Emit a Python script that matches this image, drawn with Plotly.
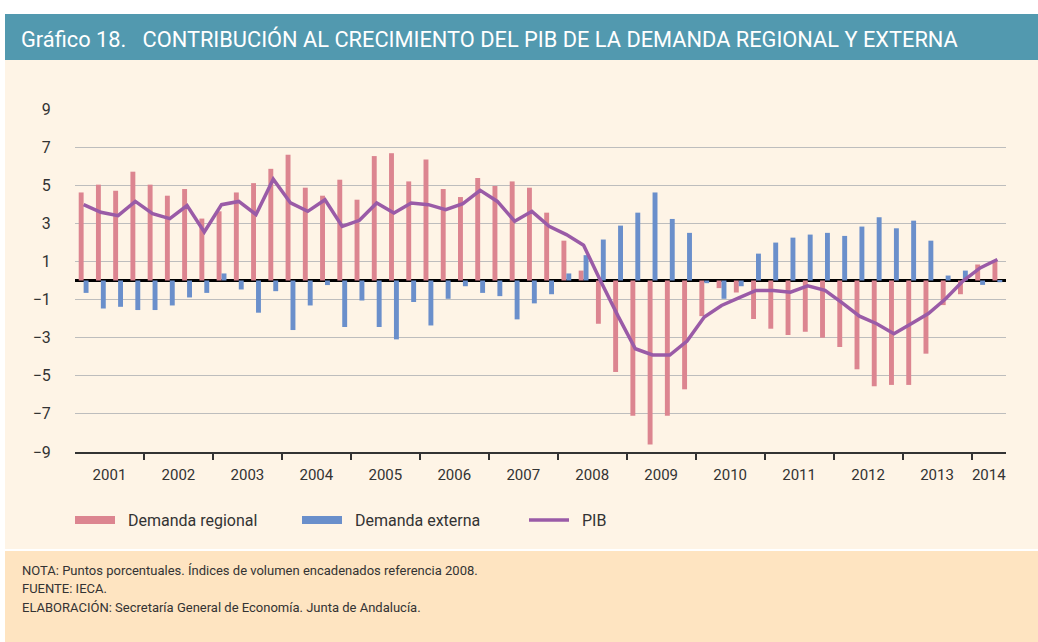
import plotly.graph_objects as go

# ---- data (quarterly, 2001 T1 .. 2014 T2) ----
years = [str(y) for y in range(2001, 2015)]
quarters = [f"{y}T{q}" for y in range(2001, 2015) for q in range(1, 5)][:54]

demanda_regional = [
    4.62, 5.03, 4.71, 5.71,
    5.03, 4.45, 4.80, 3.25,
    3.63, 4.62, 5.11, 5.86,
    6.60, 4.87, 4.45, 5.29,
    4.24, 6.53, 6.68, 5.20,
    6.35, 4.80, 4.38, 5.38,
    4.96, 5.20, 4.87, 3.56,
    2.09, 0.52, -2.27, -4.80,
    -7.10, -8.60, -7.10, -5.71,
    -1.87, -0.40, -0.63, -2.02,
    -2.53, -2.86, -2.69, -3.00,
    -3.49, -4.66, -5.55, -5.48,
    -5.48, -3.84, -1.29, -0.72,
    0.84, 1.06,
]
demanda_externa = [
    -0.65, -1.47, -1.38, -1.55,
    -1.55, -1.31, -0.89, -0.65,
    0.37, -0.47, -1.69, -0.56,
    -2.60, -1.31, -0.24, -2.44,
    -1.05, -2.44, -3.09, -1.13,
    -2.36, -0.96, -0.30, -0.65,
    -0.82, -2.04, -1.20, -0.72,
    0.37, 1.33, 2.15, 2.88,
    3.56, 4.62, 3.23, 2.50,
    -0.14, -0.96, -0.30, 1.41,
    1.99, 2.25, 2.41, 2.50,
    2.34, 2.83, 3.32, 2.74,
    3.14, 2.09, 0.26, 0.52,
    -0.23, -0.09,
]
pib = [
    3.98, 3.58, 3.40, 4.15,
    3.51, 3.25, 3.93, 2.55,
    3.98, 4.15, 3.46, 5.32,
    4.07, 3.63, 4.24, 2.84,
    3.16, 4.07, 3.54, 4.07,
    3.98, 3.72, 4.03, 4.73,
    4.15, 3.11, 3.63, 2.84,
    2.41, 1.85, -0.05, -1.87,
    -3.58, -3.91, -3.91, -3.18,
    -1.92, -1.31, -0.91, -0.52,
    -0.52, -0.61, -0.28, -0.52,
    -1.17, -1.87, -2.27, -2.79,
    -2.27, -1.73, -0.96, -0.03,
    0.66, 1.10,
]
y_ticks = [9, 7, 5, 3, 1, -1, -3, -5, -7, -9]

title_text = "Gráfico 18.&nbsp;&nbsp; CONTRIBUCIÓN AL CRECIMIENTO DEL PIB DE LA DEMANDA REGIONAL Y EXTERNA"
notes = [
    "NOTA: Puntos porcentuales. Índices de volumen encadenados referencia 2008.",
    "FUENTE: IECA.",
    "ELABORACIÓN: Secretaría General de Economía. Junta de Andalucía.",
]

# ---- derived positions ----
x = list(range(len(quarters)))
qyear = [q[:4] for q in quarters]
year_centers, year_bounds = [], []
for y in years:
    idx = [i for i, v in enumerate(qyear) if v == y]
    year_centers.append((idx[0] + idx[-1]) / 2)
    if idx[0] > 0:
        year_bounds.append(idx[0] - 0.5)

RED, BLUE, PURPLE = "#DC8590", "#6A8FCB", "#9A5BA7"
TEAL, CREAM, PEACH = "#5299AF", "#FEF4E6", "#FEE4C1"
TXT = "#333333"
FONT = "Roboto, Arial, sans-serif"
NB = "\u00a0\u00a0"

W, H = 1038, 642
L, R, T, B = 75, 32, 109, 190
pw, ph = W - L - R, H - T - B


def px(xp):
    return (xp - L) / pw


def py(yp):
    return (H - B - yp) / ph


fig = go.Figure()
fig.add_trace(go.Bar(x=x, y=demanda_regional, name="Demanda regional",
                     marker=dict(color=RED, line=dict(width=0)), showlegend=False))
fig.add_trace(go.Bar(x=x, y=demanda_externa, name="Demanda externa",
                     marker=dict(color=BLUE, line=dict(width=0)), showlegend=False))
fig.add_trace(go.Scatter(x=x, y=pib, name="PIB", mode="lines",
                         line=dict(color=PURPLE, width=3.5), showlegend=False))
# legend entries
fig.add_trace(go.Scatter(x=[None], y=[None], mode="lines", name=NB + "Demanda regional",
                         line=dict(color=RED, width=8)))
fig.add_trace(go.Scatter(x=[None], y=[None], mode="lines", name=NB + "Demanda externa",
                         line=dict(color=BLUE, width=8)))
fig.add_trace(go.Scatter(x=[None], y=[None], mode="lines", name=NB + "PIB",
                         line=dict(color=PURPLE, width=3.5)))

shapes = [
    dict(type="rect", xref="paper", yref="paper", x0=px(5), x1=px(W + 2), y0=py(549), y1=py(14),
         fillcolor=CREAM, line=dict(width=0), layer="below"),
    dict(type="rect", xref="paper", yref="paper", x0=px(5), x1=px(W + 2), y0=py(60), y1=py(14),
         fillcolor=TEAL, line=dict(width=0), layer="below"),
    dict(type="rect", xref="paper", yref="paper", x0=px(5), x1=px(W + 2), y0=py(H + 2), y1=py(551),
         fillcolor=PEACH, line=dict(width=0), layer="below"),
]

annotations = [
    dict(text=title_text, xref="paper", yref="paper", x=px(19), y=py(39),
         xanchor="left", yanchor="middle", showarrow=False,
         font=dict(family=FONT, size=21.8, color="white")),
]
for k, line in enumerate(notes):
    annotations.append(dict(text=line, xref="paper", yref="paper", x=px(20), y=py(570 + 18.5 * k),
                            xanchor="left", yanchor="middle", showarrow=False,
                            font=dict(family=FONT, size=13, color=TXT)))

fig.update_layout(
    width=W, height=H,
    margin=dict(l=L, r=R, t=T, b=B),
    paper_bgcolor="white",
    plot_bgcolor="rgba(0,0,0,0)",
    barmode="group", bargap=0.43, bargroupgap=0,
    font=dict(family=FONT, color=TXT),
    shapes=shapes,
    annotations=annotations,
    legend=dict(orientation="h", x=px(70), y=py(520), xanchor="left", yanchor="middle",
                font=dict(family=FONT, size=16, color=TXT),
                entrywidth=172, entrywidthmode="pixels",
                bgcolor="rgba(0,0,0,0)", itemwidth=40),
    xaxis=dict(range=[-0.5, len(x) - 0.5], tickvals=year_centers, ticktext=years,
               ticks="outside", ticklen=8, tickcolor="rgba(0,0,0,0)",
               showgrid=False, zeroline=False,
               showline=True, linecolor=TXT, linewidth=1.5,
               tickfont=dict(family=FONT, size=15, color=TXT),
               minor=dict(tickvals=year_bounds, ticks="outside", ticklen=6,
                          tickcolor=TXT, tickwidth=1.5, showgrid=False)),
    yaxis=dict(range=[-9, 9], tickvals=y_ticks, ticks="outside", ticklen=20,
               tickcolor="rgba(0,0,0,0)",
               showgrid=True, gridcolor="#BDBDBD", gridwidth=1,
               zeroline=True, zerolinecolor="black", zerolinewidth=2.5,
               showline=False,
               tickfont=dict(family=FONT, size=16, color=TXT)),
)

fig.write_html("out.html", config={"displayModeBar": False},
               post_script="document.body.style.margin='0px';document.body.style.padding='0px';")
